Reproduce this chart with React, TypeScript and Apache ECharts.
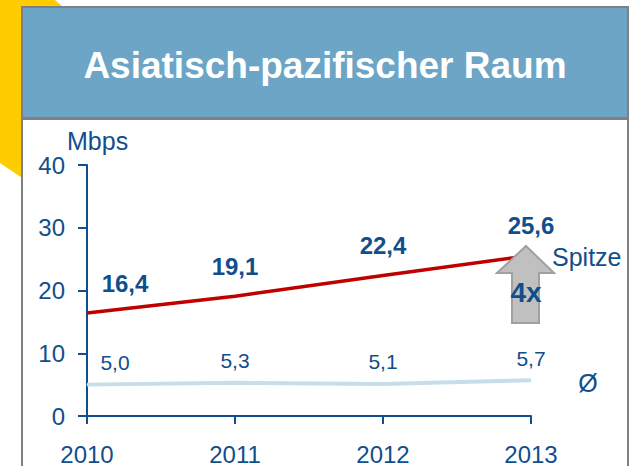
import React, { useEffect, useRef } from "react";
import * as echarts from "echarts";

const years = ["2010", "2011", "2012", "2013"];
const peakSpeed = [16.4, 19.1, 22.4, 25.6];
const avgSpeed = [5.0, 5.3, 5.1, 5.7];
const yMin = 0;
const yMax = 40;
const yStep = 10;
const titleText = "Asiatisch-pazifischer Raum";
const unitText = "Mbps";
const peakText = "Spitze";
const avgText = "Ø";
const factorText = "4x";

const FONT = 'Arial, "Liberation Sans", sans-serif';
const DARK = "#114E8C";

const fmt = (v: number) => v.toFixed(1).replace(".", ",");

export default function App() {
  const ref = useRef<HTMLDivElement>(null);

  useEffect(() => {
    if (!ref.current) return;
    const chart = echarts.init(ref.current, undefined, { renderer: "svg" });
    chart.setOption({
      animation: false,
      backgroundColor: "#ffffff",
      textStyle: { fontFamily: FONT },
      grid: { left: 87, right: 102, top: 165, bottom: 46 },
      xAxis: {
        type: "category",
        data: years,
        boundaryGap: false,
        axisLine: { lineStyle: { color: DARK, width: 2 } },
        axisTick: { length: 8, lineStyle: { color: DARK, width: 2 } },
        axisLabel: { color: DARK, fontSize: 24, margin: 26, fontFamily: FONT },
        splitLine: { show: false },
      },
      yAxis: {
        type: "value",
        min: yMin,
        max: yMax,
        interval: yStep,
        axisLine: { show: true, lineStyle: { color: DARK, width: 2 } },
        axisTick: { show: true, length: 9, lineStyle: { color: DARK, width: 2 } },
        axisLabel: { color: DARK, fontSize: 24, margin: 22, fontFamily: FONT },
        splitLine: { show: false },
      },
      series: [
        {
          type: "line",
          data: peakSpeed.map((v, i) =>
            i === 0 ? { value: v, label: { offset: [38, 0] } } : v
          ),
          symbol: "circle",
          symbolSize: 1,
          itemStyle: { color: "#C00000" },
          lineStyle: { color: "#C00000", width: 3.5 },
          z: 3,
          label: {
            show: true,
            position: "top",
            distance: 17,
            color: DARK,
            fontSize: 24,
            fontWeight: "bold",
            fontFamily: FONT,
            formatter: (p: any) => fmt(p.value),
          },
        },
        {
          type: "line",
          data: avgSpeed.map((v, i) =>
            i === 0 ? { value: v, label: { offset: [28, 0] } } : v
          ),
          symbol: "circle",
          symbolSize: 1,
          itemStyle: { color: "#C6DDEA" },
          lineStyle: { color: "#C6DDEA", width: 4 },
          z: 3,
          label: {
            show: true,
            position: "top",
            distance: 11,
            color: DARK,
            fontSize: 21,
            fontFamily: FONT,
            formatter: (p: any) => fmt(p.value),
          },
        },
      ],
      graphic: [
        {
          type: "polygon",
          z: -20,
          shape: { points: [[0, 0], [55, 0], [80, 22], [80, 217], [0, 163]] },
          style: { fill: "#FFCC00" },
        },
        {
          type: "rect",
          z: -15,
          shape: { x: 22, y: 7, width: 606, height: 480 },
          style: { fill: "#ffffff", stroke: "#808080", lineWidth: 2 },
        },
        {
          type: "rect",
          z: -14,
          shape: { x: 23, y: 8, width: 604, height: 110 },
          style: { fill: "#6CA5C5" },
        },
        {
          type: "line",
          z: -13,
          shape: { x1: 22, y1: 118.5, x2: 628, y2: 118.5 },
          style: { stroke: "#808080", lineWidth: 3 },
        },
        {
          type: "text",
          z: 10,
          x: 325,
          y: 65,
          style: {
            text: titleText,
            fill: "#ffffff",
            font: `bold 37px ${FONT}`,
            align: "center",
            verticalAlign: "middle",
          },
        },
        {
          type: "text",
          z: 10,
          x: 67,
          y: 141,
          style: {
            text: unitText,
            fill: DARK,
            font: `25px ${FONT}`,
            align: "left",
            verticalAlign: "middle",
          },
        },
        {
          type: "polygon",
          z: 50,
          shape: {
            points: [
              [526, 246],
              [554, 273],
              [539, 273],
              [539, 323],
              [512, 323],
              [512, 273],
              [497, 273],
            ],
          },
          style: { fill: "#C0C0C0", stroke: "#A0A0A0", lineWidth: 2 },
        },
        {
          type: "text",
          z: 51,
          x: 526,
          y: 292,
          style: {
            text: factorText,
            fill: DARK,
            font: `bold 28px ${FONT}`,
            align: "center",
            verticalAlign: "middle",
          },
        },
        {
          type: "text",
          z: 10,
          x: 552,
          y: 257,
          style: {
            text: peakText,
            fill: DARK,
            font: `25px ${FONT}`,
            align: "left",
            verticalAlign: "middle",
          },
        },
        {
          type: "text",
          z: 10,
          x: 588,
          y: 383,
          style: {
            text: avgText,
            fill: DARK,
            font: `25px ${FONT}`,
            align: "center",
            verticalAlign: "middle",
          },
        },
      ],
    });
    return () => chart.dispose();
  }, []);

  return (
    <div
      ref={ref}
      style={{ position: "fixed", left: 0, top: 0, width: 633, height: 466 }}
    />
  );
}
